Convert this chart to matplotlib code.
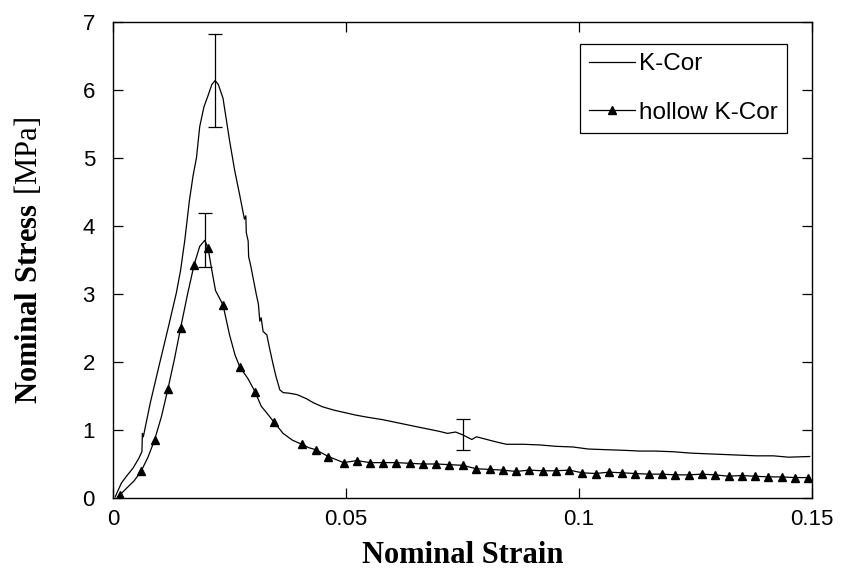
import numpy as np
import matplotlib
matplotlib.use('Agg')
import matplotlib.pyplot as plt

plt.rcParams['font.family'] = ['Liberation Sans', 'DejaVu Sans']
plt.rcParams['mathtext.fontset'] = 'custom'
plt.rcParams['mathtext.rm'] = 'Liberation Serif'
plt.rcParams['mathtext.bf'] = 'Liberation Serif:bold'

# K-Cor curve
kcor_strain = [0.0005, 0.0010, 0.0018, 0.0030, 0.0043, 0.0055, 0.0062, 0.0063, 0.0065,
               0.0080, 0.0100, 0.0120, 0.0136, 0.0145, 0.0154, 0.0164, 0.0172, 0.0179,
               0.0186, 0.0195, 0.0204, 0.0212, 0.0219, 0.0226, 0.0236, 0.0250, 0.0261,
               0.0272, 0.0282, 0.0285, 0.0286, 0.0290, 0.0291, 0.0296, 0.0307, 0.0312,
               0.0315, 0.0318, 0.0322, 0.0330, 0.0336, 0.0343, 0.0350, 0.0358, 0.0365,
               0.0379, 0.0395, 0.0415, 0.0430, 0.0450, 0.0475, 0.0501, 0.0520, 0.0544,
               0.0580, 0.0615, 0.0650, 0.0686, 0.0700, 0.0718, 0.0735, 0.0750, 0.0770,
               0.0780, 0.0808, 0.0825, 0.0844, 0.0880, 0.0916, 0.0950, 0.0987, 0.1020,
               0.1059, 0.1100, 0.1131, 0.1165, 0.1202, 0.1240, 0.1274, 0.1310, 0.1345,
               0.1380, 0.1417, 0.1450, 0.1495]
kcor_stress = [0.02, 0.10, 0.22, 0.33, 0.44, 0.58, 0.68, 0.95, 0.90,
               1.40, 1.98, 2.55, 3.02, 3.35, 3.79, 4.38, 4.75, 5.00,
               5.46, 5.75, 5.92, 6.08, 6.14, 6.08, 5.88, 5.26, 4.82,
               4.45, 4.10, 4.15, 3.90, 3.78, 3.55, 3.40, 3.01, 2.85,
               2.60, 2.65, 2.45, 2.40, 2.20, 1.98, 1.78, 1.59, 1.55,
               1.54, 1.52, 1.46, 1.40, 1.34, 1.29, 1.25, 1.22, 1.19,
               1.15, 1.10, 1.05, 1.00, 0.98, 0.95, 0.97, 0.93, 0.86,
               0.90, 0.85, 0.82, 0.79, 0.79, 0.78, 0.76, 0.75, 0.72,
               0.71, 0.70, 0.69, 0.69, 0.68, 0.66, 0.65, 0.64, 0.63,
               0.62, 0.62, 0.60, 0.61]

# hollow K-Cor curve; True where a triangle is drawn
hollow_strain = [0.0010, 0.0014, 0.0030, 0.0045, 0.0060, 0.0075, 0.0089, 0.0104, 0.0118,
                 0.0132, 0.0145, 0.0160, 0.0174, 0.0186, 0.0197, 0.0204, 0.0212, 0.0220,
                 0.0236, 0.0250, 0.0262, 0.0272, 0.0290, 0.0305, 0.0318, 0.0330, 0.0345,
                 0.0365, 0.0385, 0.0405, 0.0420, 0.0435, 0.0462,
                 0.0495, 0.0523, 0.0552, 0.0580, 0.0608, 0.0637, 0.0665, 0.0694, 0.0722,
                 0.0751, 0.0779, 0.0808, 0.0836, 0.0865, 0.0893, 0.0922, 0.0950, 0.0979,
                 0.1007, 0.1036, 0.1064, 0.1093, 0.1121, 0.1150, 0.1178, 0.1207, 0.1235,
                 0.1264, 0.1292, 0.1321, 0.1349, 0.1378, 0.1406, 0.1435, 0.1463, 0.1492]
hollow_stress = [0.02, 0.04, 0.15, 0.25, 0.39, 0.60, 0.85, 1.20, 1.61,
                 2.05, 2.50, 3.00, 3.43, 3.70, 3.79, 3.67, 3.35, 3.05,
                 2.84, 2.40, 2.10, 1.93, 1.75, 1.56, 1.35, 1.25, 1.12,
                 0.95, 0.85, 0.79, 0.74, 0.71, 0.61,
                 0.52, 0.55, 0.52, 0.52, 0.52, 0.51, 0.50, 0.50, 0.49,
                 0.48, 0.43, 0.42, 0.41, 0.39, 0.41, 0.40, 0.40, 0.41,
                 0.37, 0.36, 0.38, 0.37, 0.36, 0.35, 0.35, 0.34, 0.34,
                 0.35, 0.34, 0.32, 0.33, 0.32, 0.31, 0.31, 0.30, 0.30]
hollow_marker = [False, True, False, False, True, False, True, False, True,
                 False, True, False, True, False, False, True, False, False,
                 True, False, False, True, False, True, False, False, True,
                 False, False, True, False, True, True] + [True] * 36

# error bars
err_strain = [0.0219, 0.0197, 0.0750]
err_stress = [6.14, 3.79, 0.93]
err_size = [0.68, 0.40, 0.23]

fig = plt.figure(figsize=(8.41, 5.72), dpi=100)
ax = fig.add_axes([0.1344, 0.1294, 0.8311, 0.8321])

ax.plot(kcor_strain, kcor_stress, color='black', lw=0.9, label='K-Cor')
ax.plot(hollow_strain, hollow_stress, color='black', lw=0.9, marker='^', ms=6,
        markevery=hollow_marker, label='hollow K-Cor')
ax.errorbar(err_strain, err_stress, yerr=err_size, fmt='none', ecolor='black',
            elinewidth=0.9, capsize=5, capthick=0.9)

ax.set_xlim(0, 0.15)
ax.set_ylim(0, 7)
ax.set_xticks([0, 0.05, 0.1, 0.15])
ax.set_xticklabels(['0', '0.05', '0.1', '0.15'])
ax.set_yticks([0, 1, 2, 3, 4, 5, 6, 7])
ax.tick_params(direction='in', length=7, width=0.9, labelsize=16, top=True, right=True)
ax.tick_params(axis='x', pad=8)
ax.tick_params(axis='y', pad=13)
for s in ax.spines.values():
    s.set_linewidth(1.0)

ax.set_xlabel('Nominal Strain', family='Liberation Serif', fontweight='bold',
              fontsize=22, labelpad=8)
ax.set_ylabel(r'$\mathbf{Nominal\ Stress}\ \mathrm{[MPa]}$', fontsize=22, labelpad=28)

leg = ax.legend(loc='upper right', bbox_to_anchor=(0.9642, 0.9538), fontsize=17.5,
                handlelength=1.9, handletextpad=0.16, labelspacing=1.1,
                fancybox=False, edgecolor='black', framealpha=1, borderpad=0.37,
                borderaxespad=0)
leg.get_frame().set_linewidth(0.9)

fig.savefig('out.png', dpi=100)
